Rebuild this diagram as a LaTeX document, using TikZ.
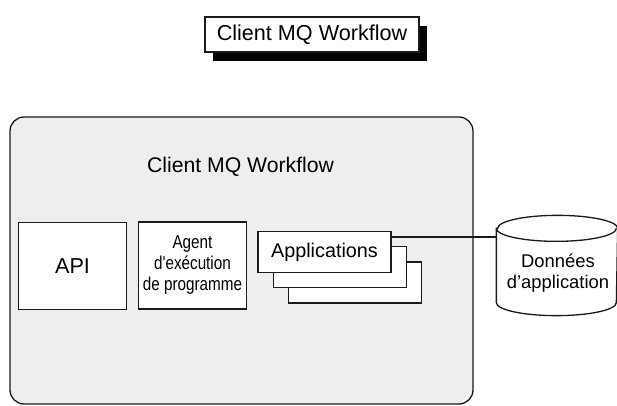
\documentclass[tikz,border=0pt]{standalone}
\usepackage{fontspec}
\setmainfont{Liberation Sans}
\newfontfamily\narrowsans[FakeStretch=0.82]{Liberation Sans}
\usepackage{xcolor}
\usetikzlibrary{shadows}
\definecolor{panel}{HTML}{EEEEF0}
\definecolor{ink}{HTML}{1A1A1A}

\begin{document}
\begin{tikzpicture}[
  x=0.5pt, y=-0.5pt,
  line width=0.65pt,
  box/.style={draw=ink, fill=white, align=center, inner sep=0pt},
  shadowbox/.style={box, drop shadow={shadow xshift=4pt, shadow yshift=-4.5pt,
                    fill=black, opacity=1}},
  frame/.style={draw=ink, fill=panel, rounded corners=7pt,
                minimum width=231.5pt, minimum height=143.5pt},
  comp/.style={box, minimum width=54pt, minimum height=43.5pt},
  appbox/.style={box, minimum width=66.5pt, minimum height=20.5pt},
  store/.style={inner sep=0pt, minimum width=60pt, minimum height=49.5pt},
  endcap/.style={x radius=30pt, y radius=6.5pt}
]
  \useasboundingbox (0,0) rectangle (617,406);

  % titre
  \node[shadowbox, minimum width=107pt, minimum height=17.5pt,
        font=\fontsize{10.8}{13}\selectfont] (title) at (312,34.5) {Client MQ Workflow};

  % client
  \node[frame] (client) at (241.5,260.5) {};
  \node[font=\fontsize{10.6}{13}\selectfont] (clientlbl) at (240.5,167) {Client MQ Workflow};

  \node[comp, font=\fontsize{10.8}{13}\selectfont] (api) at (72.5,266) {API};
  \node[comp, font=\narrowsans\fontsize{9.3}{10.5}\selectfont] (agent) at (192.5,265.5)
    {Agent\\d'exécution\\de programme};

  \node[appbox] (app3) at (355,282.5) {};
  \node[appbox] (app2) at (340,267) {};
  \node[appbox, font=\fontsize{9.9}{12}\selectfont] (apps) at (324.5,252) {Applications};

  % donnees
  \node[store] (data) at (557,265.5) {};
  \draw[ink, fill=white] ([yshift=-6.5pt]data.north west)
    -- ([yshift=6.5pt]data.south west) arc[start angle=180, end angle=360, endcap]
    -- ([yshift=-6.5pt]data.north east) arc[start angle=0, end angle=180, endcap] -- cycle;
  \draw[ink] ([yshift=-6.5pt]data.north west) arc[start angle=180, end angle=360, endcap];
  \node[align=center, font=\fontsize{9.2}{10.5}\selectfont] (datalbl) at (558,273)
    {Données\\d'application};

  \draw[ink] (apps.east |- 0,237) -- (data.west |- 0,237);
\end{tikzpicture}
\end{document}
